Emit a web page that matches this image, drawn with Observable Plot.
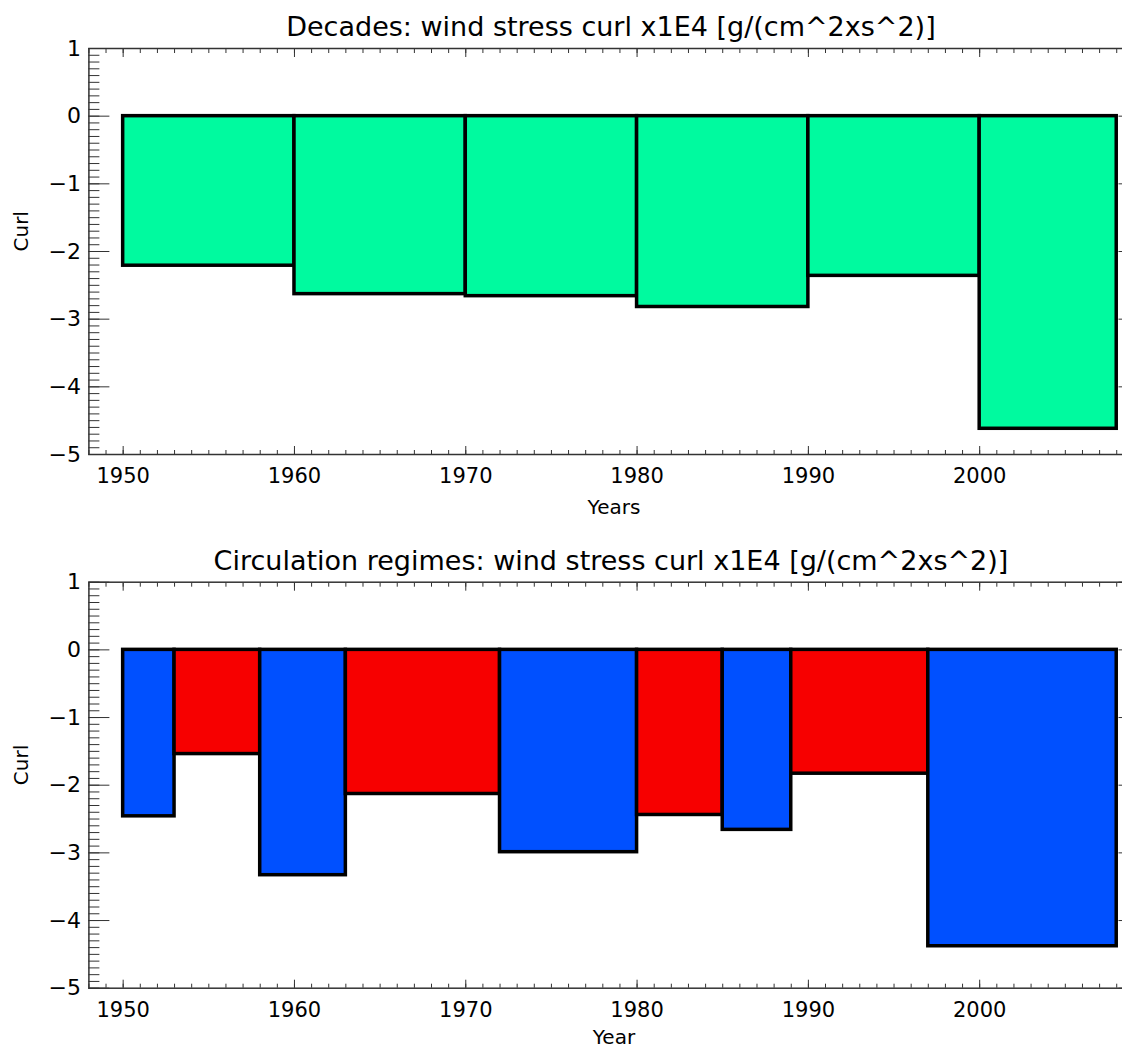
<!DOCTYPE html>
<html><head><meta charset="utf-8">
<script src="https://cdn.jsdelivr.net/npm/d3@7"></script>
<script src="https://cdn.jsdelivr.net/npm/@observablehq/plot@0.6"></script>
<style>
html,body{margin:0;padding:0;background:#fff;overflow:hidden;width:1122px;height:1049px}
svg{display:block;max-width:none !important;}
</style></head><body>
<div id="top"></div><div id="bottom"></div>
<script>
// Panel 1: decades
const decadeStart = [1950, 1960, 1970, 1980, 1990, 2000];
const decadeEnd   = [1960, 1970, 1980, 1990, 2000, 2008];
const decadeCurl  = [-2.21, -2.63, -2.66, -2.82, -2.36, -4.62];

// Panel 2: circulation regimes
const regimeStart = [1950, 1953, 1958, 1963, 1972, 1980, 1985, 1989, 1997];
const regimeEnd   = [1953, 1958, 1963, 1972, 1980, 1985, 1989, 1997, 2008];
const regimeCurl  = [-2.46, -1.54, -3.33, -2.13, -2.99, -2.44, -2.66, -1.83, -4.38];
const regimeKind  = ["A", "B", "A", "B", "A", "B", "A", "B", "A"];

// Tick labels / axes
const majorYears = [1950, 1960, 1970, 1980, 1990, 2000];
const minorYears = d3.range(1948, 2010, 1);
const majorCurl = [-5, -4, -3, -2, -1, 0, 1];
const minorCurl = d3.range(-50, 11).map(d => d / 10);

const titleTop = "Decades: wind stress curl x1E4 [g/(cm^2xs^2)]";
const titleBottom = "Circulation regimes: wind stress curl x1E4 [g/(cm^2xs^2)]";

const decades = decadeStart.map((s, i) => ({start: s, end: decadeEnd[i], curl: decadeCurl[i]}));
const regimes = regimeStart.map((s, i) => ({start: s, end: regimeEnd[i], curl: regimeCurl[i], kind: regimeKind[i]}));

const fmt = d => d < 0 ? "\u2212" + Math.abs(d) : String(d);
const FONT = "DejaVu Sans";

function panel({title, xlabel, xlabelDy, data, fill, height, marginTop, marginBottom}) {
  const tickStroke = "#333";
  return Plot.plot({
    width: 1145,
    height,
    marginLeft: 88.4,
    marginRight: 6.5,
    marginTop,
    marginBottom,
    style: {fontFamily: FONT, fontSize: "21px", background: "white", overflow: "visible", color: "black", maxWidth: "none"},
    x: {domain: [1948, 2009.3]},
    y: {domain: [-5, 1]},
    color: {domain: ["A", "B"], range: ["#0050ff", "#f70000"]},
    marks: [
      Plot.rect(data, {x1: "start", x2: "end", y1: 0, y2: "curl", fill, stroke: "black", strokeWidth: 3.5}),
      Plot.frame({stroke: "#333", strokeWidth: 1.5}),
      // y ticks, left and right
      Plot.axisY(minorCurl, {anchor: "left", tickSize: -11, tickFormat: () => "", label: null, stroke: tickStroke}),
      Plot.axisY(majorCurl, {anchor: "left", tickSize: -21, tickFormat: () => "", label: null, stroke: tickStroke}),
      Plot.axisY(minorCurl, {anchor: "right", tickSize: -11, tickFormat: () => "", label: null, stroke: tickStroke}),
      Plot.axisY(majorCurl, {anchor: "right", tickSize: -21, tickFormat: () => "", label: null, stroke: tickStroke}),
      Plot.axisY(majorCurl, {anchor: "left", tickSize: 0, tickPadding: 8, tickFormat: fmt, label: null, fontSize: 22}),
      // x ticks, bottom and top
      Plot.axisX(minorYears, {anchor: "bottom", tickSize: -4, tickFormat: () => "", label: null, stroke: tickStroke}),
      Plot.axisX(majorYears, {anchor: "bottom", tickSize: -8, tickFormat: () => "", label: null, stroke: tickStroke}),
      Plot.axisX(minorYears, {anchor: "top", tickSize: -4, tickFormat: () => "", label: null, stroke: tickStroke}),
      Plot.axisX(majorYears, {anchor: "top", tickSize: -8, tickFormat: () => "", label: null, stroke: tickStroke}),
      Plot.axisX(majorYears, {anchor: "bottom", tickSize: 0, tickPadding: 14, tickFormat: d => String(d), label: null, fontSize: 21}),
      // titles and axis labels
      Plot.text([title], {text: d => d, frameAnchor: "top", dy: -21, dx: -3, fontSize: 27, lineAnchor: "middle", letterSpacing: "0.6px"}),
      Plot.text(["Curl"], {text: d => d, frameAnchor: "left", dx: -67, rotate: -90, fontSize: 20, lineAnchor: "middle"}),
      Plot.text([xlabel], {text: d => d, frameAnchor: "bottom", dy: xlabelDy, fontSize: 20, lineAnchor: "middle"})
    ]
  });
}

document.getElementById("top").appendChild(panel({
  title: titleTop, xlabel: "Years", xlabelDy: 53, data: decades, fill: "#00fa9f",
  height: 528, marginTop: 48, marginBottom: 74
}));
document.getElementById("bottom").appendChild(panel({
  title: titleBottom, xlabel: "Year", xlabelDy: 49, data: regimes, fill: "kind",
  height: 521, marginTop: 53.7, marginBottom: 61.3
}));
</script>
</body></html>
